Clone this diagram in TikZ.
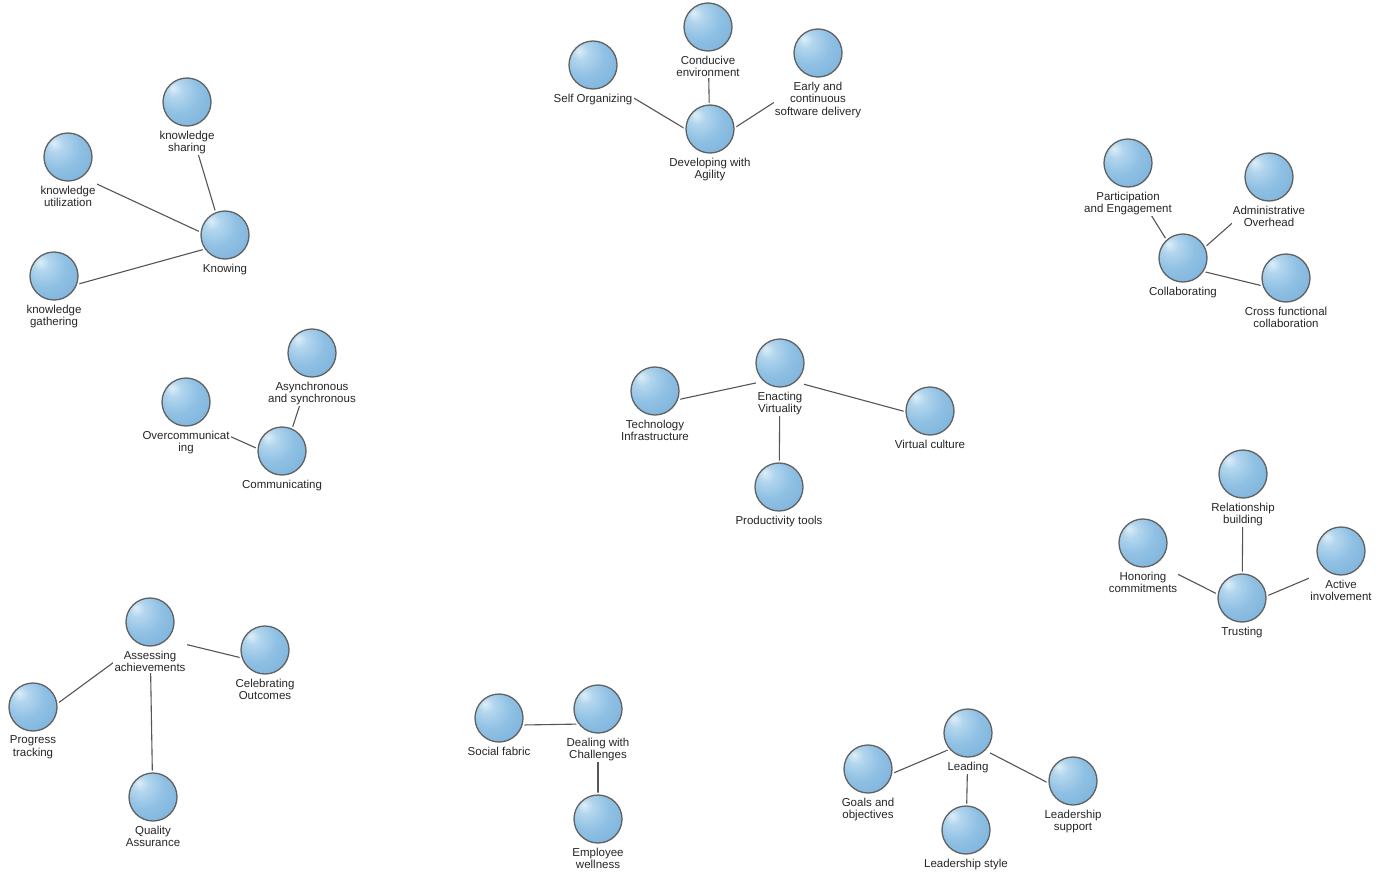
\documentclass[tikz,border=0pt]{standalone}
\usepackage{fontspec}
\setmainfont{Liberation Sans}
\usetikzlibrary{calc,backgrounds}

\definecolor{sphHi}{HTML}{DDEEF8}
\definecolor{sphMid}{HTML}{B3D6EE}
\definecolor{sphBody}{HTML}{90C1E4}
\definecolor{sphLow}{HTML}{7AB0DA}
\definecolor{sphEdge}{HTML}{5F97C6}
\definecolor{linkgray}{HTML}{555555}

% soft blue sphere, lit from the upper left
\pgfdeclareradialshading{bluesphere}{\pgfpoint{-15bp}{15bp}}{%
  color(0bp)=(sphHi); color(8bp)=(sphMid); color(22bp)=(sphBody);
  color(42bp)=(sphLow); color(60bp)=(sphEdge); color(72bp)=(sphEdge)}

% links lie on the background, white cut-outs above them, nodes on top
\pgfdeclarelayer{mask}
\pgfsetlayers{background,mask,main}

\tikzset{
  sphere/.style={circle, minimum size=48pt, inner sep=0pt, outer sep=0pt,
    shading=bluesphere, draw=black!62, line width=1.3pt},
  tag/.style={fill=white, inner sep=1.2pt, align=center,
    font=\fontsize{11.5}{12.5}\selectfont, text=black!85},
  link/.style={draw=linkgray, line width=1.1pt}
}

% one concept: sphere, caption below it, and a centre point for the links
\newcommand\cpt[4]{%
  \node[sphere] (#1) at (#2,#3) {};
  \node[tag, anchor=north] (#1-l) at ([yshift=-3.5pt]#1.south) {#4};
  \coordinate (#1-c) at ($(#1.north)!0.5!(#1-l.south)$);
  \begin{pgfonlayer}{mask}
    \fill[white] (#1) circle (26.5pt);
    \fill[white] ([yshift=6pt]#1-l.north west |- #1.south) rectangle (#1-l.north east);
  \end{pgfonlayer}
}

\begin{document}
\begin{tikzpicture}[x=1pt, y=-1pt]
\useasboundingbox (0,0) rectangle (1388,878);

% Knowing
\cpt{ksharing}{187}{102}{knowledge\\sharing}
\cpt{kutil}{68}{157}{knowledge\\utilization}
\cpt{kgather}{54}{276}{knowledge\\gathering}
\cpt{knowing}{225}{235}{Knowing}

% Developing with Agility
\cpt{selforg}{593}{65}{Self Organizing}
\cpt{conducive}{708}{27}{Conducive\\environment}
\cpt{early}{818}{53}{Early and\\continuous\\software delivery}
\cpt{dev}{710}{129}{Developing with\\Agility}

% Collaborating
\cpt{particip}{1128}{163}{Participation\\and Engagement}
\cpt{admin}{1269}{177}{Administrative\\Overhead}
\cpt{collab}{1183}{258}{Collaborating}
\cpt{cross}{1286}{278}{Cross functional\\collaboration}

% Communicating
\cpt{async}{312}{353}{Asynchronous\\and synchronous}
\cpt{overcomm}{186}{402}{Overcommunicat\\ing}
\cpt{comm}{282}{451}{Communicating}

% Enacting Virtuality
\cpt{tech}{655}{391}{Technology\\Infrastructure}
\cpt{enact}{780}{363}{Enacting\\Virtuality}
\cpt{vculture}{930}{411}{Virtual culture}
\cpt{prod}{779}{487}{Productivity tools}

% Trusting
\cpt{relation}{1243}{474}{Relationship\\building}
\cpt{honor}{1143}{543}{Honoring\\commitments}
\cpt{trust}{1242}{598}{Trusting}
\cpt{active}{1341}{551}{Active\\involvement}

% Assessing achievements
\cpt{assess}{150}{622}{Assessing\\achievements}
\cpt{celeb}{265}{650}{Celebrating\\Outcomes}
\cpt{progress}{33}{707}{Progress\\tracking}
\cpt{quality}{153}{797}{Quality\\Assurance}

% Dealing with Challenges
\cpt{social}{499}{718}{Social fabric}
\cpt{deal}{598}{709}{Dealing with\\Challenges}
\cpt{wellness}{598}{819}{Employee\\wellness}

% Leading
\cpt{lead}{968}{733}{Leading}
\cpt{goals}{868}{769}{Goals and\\objectives}
\cpt{style}{966}{830}{Leadership style}
\cpt{support}{1073}{781}{Leadership\\support}

\begin{pgfonlayer}{background}
  \fill[white] (0,0) rectangle (1388,878);
  \foreach \a/\b in {knowing/ksharing, knowing/kutil, knowing/kgather,
      dev/selforg, dev/conducive, dev/early,
      collab/particip, collab/admin, collab/cross,
      comm/async, comm/overcomm,
      enact/tech, enact/vculture, enact/prod,
      trust/relation, trust/honor, trust/active,
      assess/celeb, assess/progress, assess/quality,
      deal/social, deal/wellness,
      lead/goals, lead/style, lead/support}
    \draw[link] (\a-c) -- (\b-c);
\end{pgfonlayer}
\end{tikzpicture}
\end{document}
